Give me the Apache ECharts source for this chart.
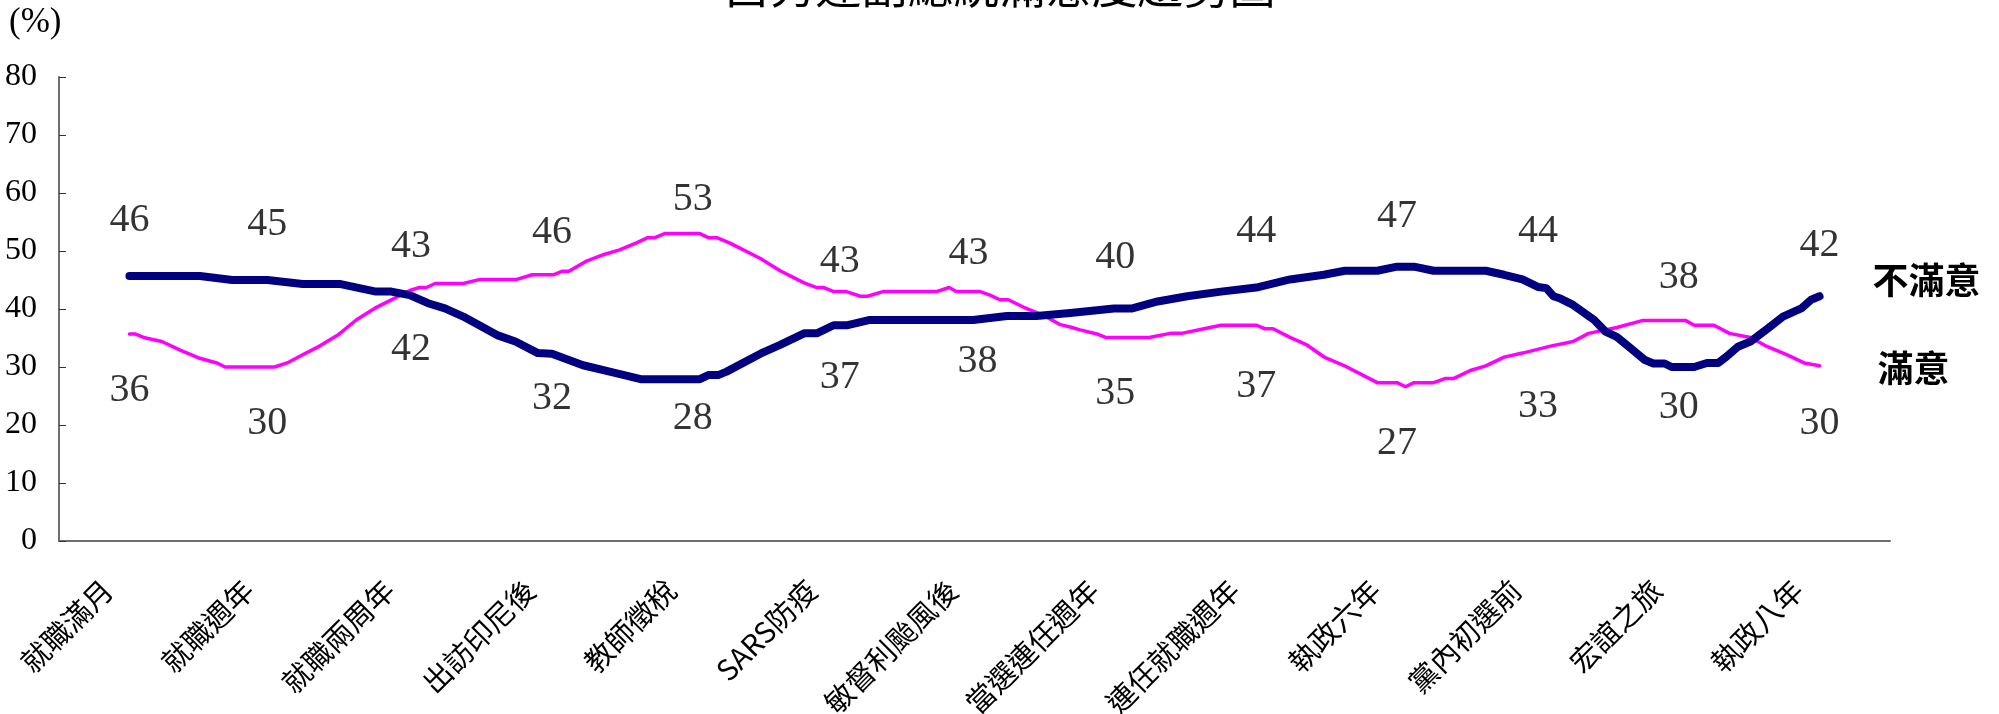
<!DOCTYPE html>
<html>
<head>
<meta charset="utf-8">
<script src="https://cdn.jsdelivr.net/npm/echarts@6/dist/echarts.min.js"></script>
<style>
html,body{margin:0;padding:0;background:#fff;}
#chart{width:1999px;height:714px;}
</style>
</head>
<body>
<div id="chart"></div>
<script>
const titleText = '呂秀蓮副總統滿意度趨勢圖';
const categories = ['就職滿月','就職週年','就職兩周年','出訪印尼後','教師徵稅','SARS防疫','敏督利颱風後','當選連任週年','連任就職週年','執政六年','黨內初選前','宏誼之旅','執政八年'];
const seriesNames = ['不滿意','滿意'];
const dissatLabels = [46,45,42,32,28,37,38,40,44,47,44,30,42];
const satLabels = [36,30,43,46,53,43,43,35,37,27,33,38,30];
// [position in category units, percent]
const dissatLine = [[0,45.7],[0.5,45.7],[0.73,45.0],[0.98,45.0],[1.23,44.3],[1.5,44.3],[1.75,43.0],[1.86,43.0],[1.99,42.4],[2.12,41.0],[2.24,40.1],[2.37,38.7],[2.61,35.5],[2.74,34.4],[2.9,32.4],[3.0,32.3],[3.22,30.3],[3.41,29.2],[3.63,27.9],[4.05,27.9],[4.11,28.6],[4.18,28.6],[4.24,29.2],[4.48,32.3],[4.62,33.8],[4.79,35.8],[4.88,35.8],[5.0,37.2],[5.1,37.2],[5.25,38.1],[5.99,38.1],[6.23,38.8],[6.44,38.8],[6.68,39.3],[6.99,40.1],[7.12,40.1],[7.3,41.3],[7.51,42.2],[7.75,43.0],[8.0,43.7],[8.24,45.1],[8.48,45.9],[8.63,46.6],[8.86,46.6],[9.0,47.3],[9.12,47.3],[9.26,46.6],[9.63,46.6],[9.76,45.9],[9.89,45.1],[10.0,43.8],[10.06,43.6],[10.11,42.2],[10.16,41.8],[10.25,40.7],[10.33,39.3],[10.4,38.1],[10.48,36.1],[10.56,35.2],[10.66,33.2],[10.76,31.2],[10.82,30.6],[10.9,30.6],[10.95,30.0],[11.11,30.0],[11.2,30.7],[11.28,30.7],[11.34,31.8],[11.42,33.5],[11.51,34.4],[11.63,36.6],[11.74,38.7],[11.87,40.1],[11.94,41.6],[12,42.2]];
const satLine = [[0,35.7],[0.04,35.7],[0.1,35.1],[0.23,34.4],[0.36,32.9],[0.5,31.5],[0.62,30.7],[0.68,30.0],[1.03,30.0],[1.12,30.7],[1.23,32.1],[1.35,33.6],[1.48,35.5],[1.61,38.1],[1.74,40.1],[1.87,41.7],[1.99,43.2],[2.06,43.7],[2.11,43.7],[2.17,44.4],[2.37,44.4],[2.49,45.1],[2.75,45.1],[2.86,45.9],[3.01,45.9],[3.07,46.5],[3.12,46.5],[3.24,48.2],[3.37,49.4],[3.48,50.2],[3.6,51.4],[3.68,52.3],[3.73,52.3],[3.8,53.0],[4.05,53.0],[4.11,52.3],[4.17,52.3],[4.26,51.4],[4.48,48.7],[4.62,46.6],[4.79,44.5],[4.88,43.7],[4.93,43.7],[5.0,43.0],[5.09,43.0],[5.19,42.2],[5.24,42.2],[5.35,43.0],[5.73,43.0],[5.82,43.7],[5.87,43.0],[6.04,43.0],[6.11,42.4],[6.18,41.6],[6.24,41.6],[6.35,40.3],[6.49,38.9],[6.61,37.3],[6.68,36.9],[6.75,36.4],[6.87,35.7],[6.93,35.1],[7.24,35.1],[7.39,35.8],[7.47,35.8],[7.63,36.6],[7.75,37.2],[8.0,37.2],[8.06,36.6],[8.12,36.6],[8.24,35.1],[8.36,33.8],[8.49,31.6],[8.62,30.3],[8.86,27.3],[9.0,27.3],[9.06,26.6],[9.12,27.3],[9.26,27.3],[9.34,28.0],[9.4,28.0],[9.52,29.4],[9.63,30.2],[9.76,31.7],[9.89,32.4],[10.09,33.6],[10.25,34.4],[10.36,35.8],[10.56,36.8],[10.74,38.0],[11.05,38.0],[11.11,37.2],[11.25,37.2],[11.36,35.8],[11.51,35.1],[11.63,33.5],[11.77,32.1],[11.89,30.7],[12,30.2]];

// label placement styles (pixel offsets)
const topDy = [-54,-56,-45,-42,-34,-30,-38,-52,-54,-52,-54,-43,-52];
const topDx = [0,-3,0,0,0,6,-6,0,0,0,0,0,0];
const botDy = [58,56,52,43,40,51,41,55,60,59,57,40,56];
const botDx = [0,-3,0,0,0,6,3,0,0,0,0,0,0];

const serif = '"Liberation Serif","Times New Roman",serif';
const cjk = '"Noto Sans CJK TC","Noto Sans CJK SC",sans-serif';

const topLabelData = categories.map((c,i)=>{
  const v = Math.max(dissatLabels[i], satLabels[i]);
  return {value:[i,v], label:{offset:[topDx[i],topDy[i]]}};
});
const botLabelData = categories.map((c,i)=>{
  const v = Math.min(dissatLabels[i], satLabels[i]);
  return {value:[i,v], label:{offset:[botDx[i],botDy[i]]}};
});

const chart = echarts.init(document.getElementById('chart'), null, {renderer:'canvas'});
const labelStyle = {show:true, position:'inside', formatter:p=>p.value[1], fontFamily:serif, fontSize:40, color:'#000'};
chart.setOption({
  animation:false,
  backgroundColor:'#fff',
  title:{text:titleText, left:'center', top:-42, textStyle:{fontFamily:cjk, fontSize:46, fontWeight:'normal', color:'#000'}},
  graphic:[{type:'text', left:9, top:5, style:{text:'(%)', font:'35px "Liberation Serif", serif', fill:'#000'}}],
  grid:{left:59, right:109, top:77, bottom:173, containLabel:false, outerBoundsMode:'none'},
  xAxis:[
    {type:'category', data:categories, boundaryGap:true,
     axisLine:{onZero:false, lineStyle:{color:'#6e6e6e', width:2}},
     axisTick:{inside:true, length:8, lineStyle:{color:'#555', width:1}},
     axisLabel:{rotate:45, interval:0, margin:22, padding:[0,31,0,0], fontFamily:cjk, fontSize:29, color:'#000'},
     splitLine:{show:false}},
    {type:'value', min:-0.5, max:12.5, show:false}
  ],
  yAxis:{type:'value', min:0, max:80, interval:10,
    axisLine:{show:true, onZero:false, lineStyle:{color:'#6e6e6e', width:2}},
    axisTick:{show:true, inside:true, length:7, lineStyle:{color:'#333', width:1}},
    axisLabel:{margin:22, fontFamily:serif, fontSize:32, color:'#000'},
    splitLine:{show:false}},
  series:[
    {name:seriesNames[0], type:'line', xAxisIndex:1, data:dissatLine, showSymbol:false, symbol:'none',
     lineStyle:{color:'#000080', width:8, cap:'round', join:'round'},
     endLabel:{show:true, formatter:seriesNames[0], offset:[45,-16], fontFamily:cjk, fontSize:36, fontWeight:'bold', color:'#000'},
     z:3},
    {name:seriesNames[1], type:'line', xAxisIndex:1, data:satLine, showSymbol:false, symbol:'none',
     lineStyle:{color:'#ff00ff', width:3.5, cap:'round', join:'round'},
     endLabel:{show:true, formatter:seriesNames[1], offset:[50,2], fontFamily:cjk, fontSize:36, fontWeight:'bold', color:'#000'},
     z:2},
    {type:'scatter', xAxisIndex:1, data:topLabelData, symbolSize:0, label:labelStyle, silent:true},
    {type:'scatter', xAxisIndex:1, data:botLabelData, symbolSize:0, label:labelStyle, silent:true}
  ]
});
</script>
</body>
</html>
